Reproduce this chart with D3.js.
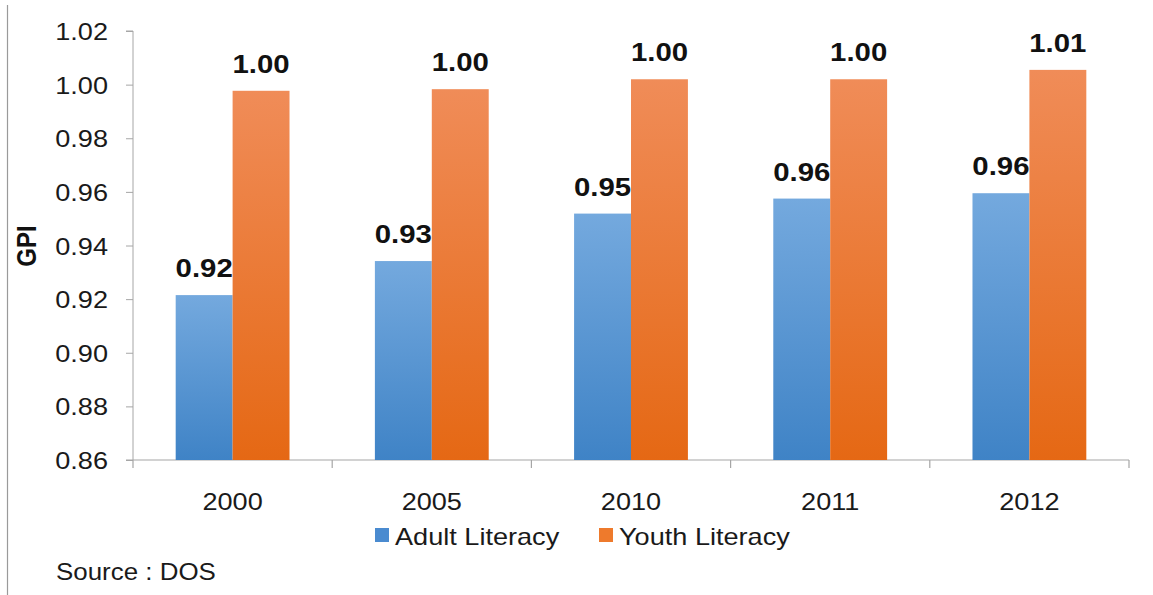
<!DOCTYPE html>
<html>
<head>
<meta charset="utf-8">
<script src="https://cdn.jsdelivr.net/npm/d3@7"></script>
<style>
  html, body { margin: 0; padding: 0; background: #fff; }
  svg { display: block; font-family: Arial, "Liberation Sans", sans-serif; }
</style>
</head>
<body>
<svg id="chart" width="1153" height="595"></svg>
<script>
// Gender parity index of literacy, by year
const years = ["2000", "2005", "2010", "2011", "2012"];
const seriesNames = ["Adult Literacy", "Youth Literacy"];
const adultLiteracy = [0.9215, 0.9342, 0.9519, 0.9575, 0.9595];
const youthLiteracy = [0.9977, 0.9983, 1.0020, 1.0020, 1.0055];
const yTicks = [0.86, 0.88, 0.90, 0.92, 0.94, 0.96, 0.98, 1.00, 1.02];
const yLabel = "GPI";
const sourceNote = "Source : DOS";

const svg = d3.select("#chart");
const W = 1153, H = 595;
const plot = { left: 133, right: 1129, top: 31, bottom: 460 };
const stretch = 1.13;            // text is drawn slightly wide
const axisColor = "#a6a6a6";

svg.append("rect").attr("width", W).attr("height", H).attr("fill", "#fff");

// left frame line
svg.append("line")
  .attr("x1", 7.5).attr("x2", 7.5).attr("y1", 5).attr("y2", H)
  .attr("stroke", "#9a9a9a").attr("stroke-width", 1.2);

// gradients for bars
const defs = svg.append("defs");
function vGrad(id, top, bottom) {
  const g = defs.append("linearGradient").attr("id", id)
    .attr("x1", 0).attr("y1", 0).attr("x2", 0).attr("y2", 1);
  g.append("stop").attr("offset", "0%").attr("stop-color", top);
  g.append("stop").attr("offset", "100%").attr("stop-color", bottom);
}
vGrad("gBlue", "#74a9de", "#3f83c6");
vGrad("gOrange", "#f08c58", "#e56814");
const fills = { "Adult Literacy": "url(#gBlue)", "Youth Literacy": "url(#gOrange)" };
const swatch = { "Adult Literacy": "#4a8bd0", "Youth Literacy": "#ee7a2c" };

const rows = years.map((yr, i) => ({
  year: yr,
  values: [
    { key: seriesNames[0], value: adultLiteracy[i] },
    { key: seriesNames[1], value: youthLiteracy[i] }
  ]
}));

const x0 = d3.scaleBand().domain(years).range([plot.left, plot.right]).padding(0);
const x1 = d3.scaleBand().domain(seriesNames).range([0, x0.bandwidth()])
  .paddingInner(0).paddingOuter(0.75);
const y = d3.scaleLinear().domain([0.86, 1.02]).range([plot.bottom, plot.top]);

// y axis
const yAxis = svg.append("g").attr("transform", `translate(${plot.left},0)`)
  .call(d3.axisLeft(y).tickValues(yTicks).tickSize(7).tickFormat(() => ""));
yAxis.select(".domain").attr("stroke", axisColor).attr("d", `M-7,${plot.top}H0V${plot.bottom}`);
yAxis.selectAll(".tick line").attr("stroke", axisColor);

svg.append("g").selectAll("text").data(yTicks).join("text")
  .attr("transform", d => `translate(108,${y(d) + 9}) scale(${stretch},1)`)
  .attr("text-anchor", "end")
  .attr("font-size", 24).attr("fill", "#1a1a1a")
  .text(d => d3.format(".2f")(d));

// x axis with ticks at category boundaries
const bounds = years.map(d => x0(d)).concat([plot.right]);
const xAxis = svg.append("g");
xAxis.append("line")
  .attr("x1", plot.left - 7).attr("x2", plot.right)
  .attr("y1", plot.bottom).attr("y2", plot.bottom)
  .attr("stroke", axisColor).attr("stroke-width", 1.2);
xAxis.selectAll("line.tk").data(bounds).join("line").attr("class", "tk")
  .attr("x1", d => d).attr("x2", d => d)
  .attr("y1", plot.bottom).attr("y2", plot.bottom + 8)
  .attr("stroke", axisColor).attr("stroke-width", 1.2);
xAxis.selectAll("text").data(years).join("text")
  .attr("transform", d => `translate(${x0(d) + x0.bandwidth() / 2},510) scale(${stretch},1)`)
  .attr("text-anchor", "middle")
  .attr("font-size", 24).attr("fill", "#1a1a1a")
  .text(d => d);

// bars
const groups = svg.append("g").selectAll("g").data(rows).join("g")
  .attr("transform", d => `translate(${x0(d.year)},0)`);
groups.selectAll("rect").data(d => d.values).join("rect")
  .attr("x", d => x1(d.key))
  .attr("width", x1.bandwidth())
  .attr("y", d => y(d.value))
  .attr("height", d => plot.bottom - y(d.value))
  .attr("fill", d => fills[d.key]);

// value labels
groups.selectAll("text").data(d => d.values).join("text")
  .attr("transform", d => `translate(${x1(d.key) + x1.bandwidth() / 2},${y(d.value) - 18}) scale(${stretch},1)`)
  .attr("text-anchor", "middle")
  .attr("font-size", 26).attr("font-weight", "bold").attr("fill", "#111")
  .text(d => d3.format(".2f")(d.value));

// y axis title
svg.append("text")
  .attr("transform", `translate(36,246) rotate(-90) scale(1,${stretch})`)
  .attr("text-anchor", "middle")
  .attr("font-size", 24).attr("font-weight", "bold").attr("fill", "#111")
  .text(yLabel);

// legend
const legendPos = [375, 599];
const legend = svg.append("g").selectAll("g").data(seriesNames).join("g")
  .attr("transform", (d, i) => `translate(${legendPos[i]},0)`);
legend.append("rect")
  .attr("x", 0).attr("y", 528).attr("width", 14).attr("height", 14)
  .attr("fill", d => swatch[d]);
legend.append("text")
  .attr("transform", `translate(20,545) scale(${stretch},1)`)
  .attr("font-size", 24).attr("fill", "#1a1a1a")
  .text(d => d);

// source note
svg.append("text")
  .attr("transform", `translate(56,580) scale(1.08,1)`)
  .attr("font-size", 24).attr("fill", "#1a1a1a")
  .text(sourceNote);
</script>
</body>
</html>
